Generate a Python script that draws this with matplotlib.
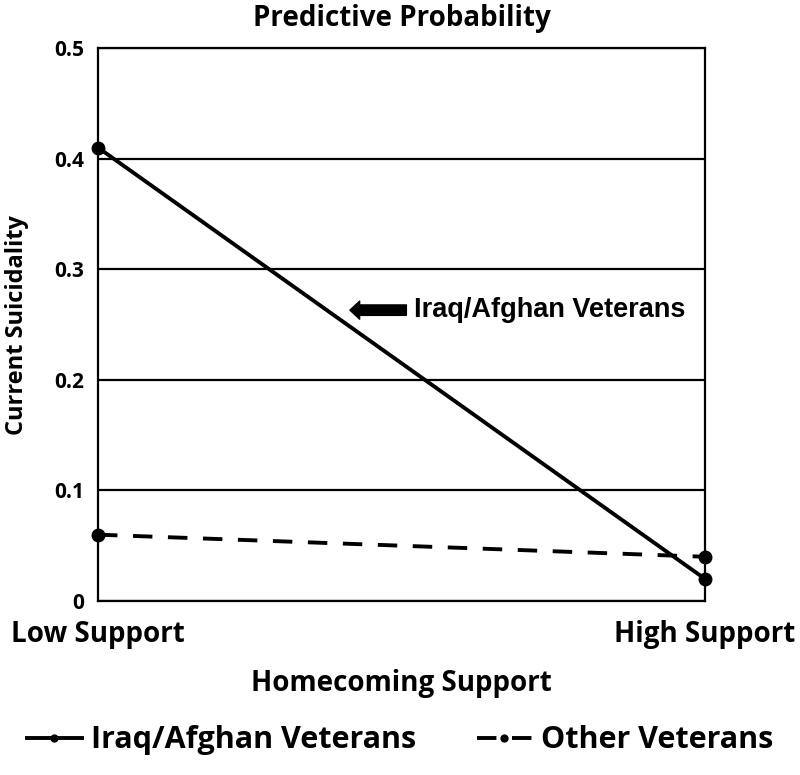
import matplotlib.pyplot as plt

categories = ["Low Support", "High Support"]
iraq_afghan = [0.41, 0.02]
other_vets = [0.06, 0.04]
y_ticks = [0, 0.1, 0.2, 0.3, 0.4, 0.5]
y_tick_labels = ["0", "0.1", "0.2", "0.3", "0.4", "0.5"]

plt.rcParams["font.family"] = ["Open Sans", "DejaVu Sans"]

fig = plt.figure(figsize=(8, 7.75), dpi=100)
ax = fig.add_axes([0.1225, 0.2245, 0.75875, 0.7135])

x = list(range(len(categories)))
ax.plot(x, iraq_afghan, color="black", lw=2.8, marker="o", ms=9,
        label="Iraq/Afghan Veterans", zorder=3, clip_on=False)
ax.plot(x, other_vets, color="black", lw=2.8, ls=(0, (5, 4)), marker="o",
        ms=9, label="Other Veterans", zorder=3, clip_on=False)

ax.set_xlim(0, 1)
ax.set_ylim(0, 0.5)
ax.set_yticks(y_ticks)
ax.set_yticklabels(y_tick_labels, fontsize=15, fontweight="bold")
ax.set_xticks(x)
ax.set_xticklabels(categories, fontsize=20, fontweight="bold")
ax.tick_params(length=0, pad=10)
ax.tick_params(axis="x", pad=14)
ax.grid(axis="y", color="black", lw=1.6)
ax.set_axisbelow(True)
for s in ax.spines.values():
    s.set_linewidth(1.6)
    s.set_color("black")

ax.set_title("Predictive Probability", fontsize=20, fontweight="bold", pad=16)
ax.set_xlabel("Homecoming Support", fontsize=20, fontweight="bold", labelpad=14)
ax.set_ylabel("Current Suicidality", fontsize=17, fontweight="bold", labelpad=18)

ax.annotate("", xy=(0.415, 0.263), xytext=(0.508, 0.263),
            arrowprops=dict(arrowstyle="simple,head_length=0.7,head_width=1.3,tail_width=0.75",
                            color="black", shrinkA=0, shrinkB=0))
ax.text(0.52, 0.263, "Iraq/Afghan Veterans", fontsize=19.5, fontweight="bold",
        family="Liberation Sans", va="center", ha="left")

fig.legend(loc="lower center", bbox_to_anchor=(0.5, -0.01), ncol=2, frameon=False,
           prop={"size": 22, "weight": "bold"}, handlelength=1.8, columnspacing=2.0,
           handletextpad=0.3, markerscale=0.55)

fig.savefig("out.png", dpi=100)
